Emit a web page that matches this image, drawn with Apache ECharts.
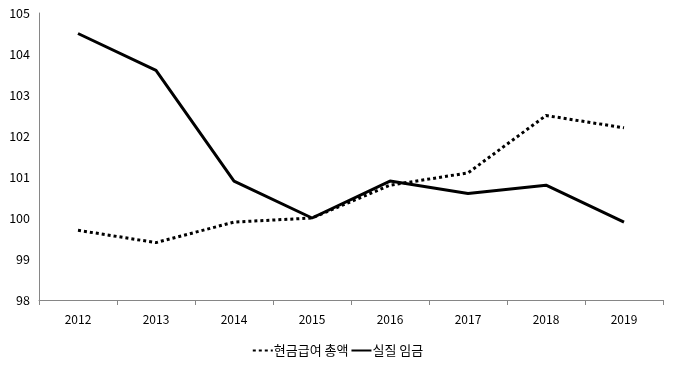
<!DOCTYPE html>
<html><head><meta charset="utf-8">
<script src="https://cdn.jsdelivr.net/npm/echarts@6/dist/echarts.min.js"></script>
<style>html,body{margin:0;padding:0;background:#fff}#c{width:675px;height:366px}</style>
</head><body><div id="c"></div>
<script>
const years = ['2012','2013','2014','2015','2016','2017','2018','2019'];
const nominalWage = [99.7, 99.4, 99.9, 100.0, 100.8, 101.1, 102.5, 102.2];
const realWage = [104.5, 103.6, 100.9, 100.0, 100.9, 100.6, 100.8, 99.9];
const seriesNames = ['현금급여 총액', '실질 임금'];

const font = '"Noto Sans CJK KR", "Noto Sans", sans-serif';
const chart = echarts.init(document.getElementById('c'), null, {renderer: 'canvas'});
chart.setOption({
  animation: false,
  textStyle: {fontFamily: font},
  grid: {left: 39, right: 12, top: 13, bottom: 66, containLabel: false},
  legend: {
    bottom: 4,
    left: 'center',
    itemGap: 2,
    itemWidth: 20,
    itemHeight: 12,
    itemStyle: {opacity: 0},
    textStyle: {fontFamily: font, fontSize: 13, color: '#000', padding: [0,0,0,-4]},
    data: seriesNames
  },
  xAxis: {
    type: 'category',
    data: years,
    boundaryGap: true,
    axisLine: {lineStyle: {color: '#868686', width: 1}},
    axisTick: {show: true, length: 5, lineStyle: {color: '#868686'}},
    axisLabel: {color: '#000', fontSize: 12, margin: 13, fontFamily: font}
  },
  yAxis: {
    type: 'value',
    min: 98, max: 105, interval: 1,
    splitLine: {show: false},
    axisLine: {show: true, lineStyle: {color: '#868686', width: 1}},
    axisTick: {show: false},
    axisLabel: {color: '#000', fontSize: 12.5, margin: 9, fontFamily: font}
  },
  series: [
    {
      name: seriesNames[0], type: 'line', data: nominalWage,
      symbol: 'none', lineStyle: {color: '#000', width: 3, type: [3, 3]},
      itemStyle: {color: '#000'}
    },
    {
      name: seriesNames[1], type: 'line', data: realWage,
      symbol: 'none', lineStyle: {color: '#000', width: 3, type: 'solid'},
      itemStyle: {color: '#000'}
    }
  ]
});
</script></body></html>
